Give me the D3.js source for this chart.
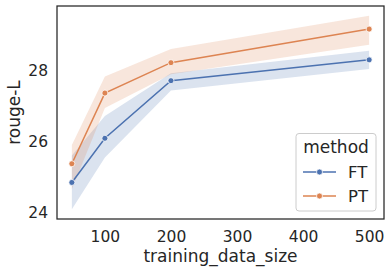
<!DOCTYPE html>
<html>
<head>
<meta charset="utf-8">
<script src="https://cdn.jsdelivr.net/npm/d3@7"></script>
<style>
  body { margin: 0; background: #fff; }
  svg text { font-family: "DejaVu Sans", sans-serif; fill: #262626; }
</style>
</head>
<body>
<div id="svgContainer"></div>
<script>
// data
const sizes = [50, 100, 200, 500]
const methods = ['FT', 'PT']
const colors = ['#4c72b0', '#dd8452']
const ftMean = [24.84, 26.09, 27.72, 28.31]
const ftLow  = [24.08, 25.55, 27.44, 28.05]
const ftHigh = [25.60, 26.72, 27.93, 28.57]
const ptMean = [25.37, 27.37, 28.23, 29.18]
const ptLow  = [24.65, 26.95, 27.90, 28.74]
const ptHigh = [25.90, 27.84, 28.62, 29.56]
const xTicks = [100, 200, 300, 400, 500]
const yTicks = [24, 26, 28]

const series = [
  { name: methods[0], color: colors[0], mean: ftMean, low: ftLow, high: ftHigh },
  { name: methods[1], color: colors[1], mean: ptMean, low: ptLow, high: ptHigh }
]

const w = 392, h = 273
const plotL = 57, plotR = 384, plotT = 6, plotB = 219

const svg = d3.select('#svgContainer')
              .append('svg')
              .attr('width', w)
              .attr('height', h)

// matplotlib style 5% margins
const xPad = (d3.max(sizes) - d3.min(sizes)) * 0.05
const xScale = d3.scaleLinear()
                 .domain([d3.min(sizes) - xPad, d3.max(sizes) + xPad])
                 .range([plotL, plotR])

const yMin = d3.min([...ftLow, ...ptLow]), yMax = d3.max([...ftHigh, ...ptHigh])
const yPad = (yMax - yMin) * 0.05
const yScale = d3.scaleLinear()
                 .domain([yMin - yPad, yMax + yPad])
                 .range([plotB, plotT])

const area = d3.area()
               .x((d, i) => xScale(sizes[i]))
               .y0(d => yScale(d[0]))
               .y1(d => yScale(d[1]))

const line = d3.line()
               .x((d, i) => xScale(sizes[i]))
               .y(d => yScale(d))

series.forEach(s => {
  svg.append('path')
     .attr('d', area(s.low.map((v, i) => [v, s.high[i]])))
     .attr('fill', s.color)
     .attr('fill-opacity', 0.2)
})

series.forEach(s => {
  svg.append('path')
     .attr('d', line(s.mean))
     .attr('fill', 'none')
     .attr('stroke', s.color)
     .attr('stroke-width', 1.5)
  svg.selectAll(null)
     .data(s.mean)
     .enter()
     .append('circle')
     .attr('cx', (d, i) => xScale(sizes[i]))
     .attr('cy', d => yScale(d))
     .attr('r', 3)
     .attr('fill', s.color)
     .attr('stroke', '#fff')
     .attr('stroke-width', 0.75)
})

const xAxis = svg.append('g')
                 .attr('transform', 'translate(0,' + plotB + ')')
                 .call(d3.axisBottom(xScale).tickValues(xTicks).tickSize(0).tickPadding(12))
const yAxis = svg.append('g')
                 .attr('transform', 'translate(' + plotL + ',0)')
                 .call(d3.axisLeft(yScale).tickValues(yTicks).tickFormat(d3.format('d')).tickSize(0).tickPadding(9))

svg.selectAll('.domain').remove()
svg.selectAll('.tick text')
   .attr('font-size', 15.5)
   .attr('font-family', null)
   .style('fill', '#262626')

// frame
svg.append('rect')
   .attr('x', plotL)
   .attr('y', plotT)
   .attr('width', plotR - plotL)
   .attr('height', plotB - plotT)
   .attr('fill', 'none')
   .attr('stroke', '#262626')
   .attr('stroke-width', 1.25)

svg.append('text')
   .attr('x', (plotL + plotR) / 2)
   .attr('y', 262)
   .attr('text-anchor', 'middle')
   .attr('font-size', 17)
   .text('training_data_size')

svg.append('text')
   .attr('transform', 'rotate(-90)')
   .attr('x', -(plotT + plotB) / 2)
   .attr('y', 20)
   .attr('text-anchor', 'middle')
   .attr('font-size', 17)
   .text('rouge-L')

// legend
const legend = svg.append('g')
legend.append('rect')
      .attr('x', 296)
      .attr('y', 133.5)
      .attr('width', 80)
      .attr('height', 77.5)
      .attr('rx', 3)
      .attr('fill', '#fff')
      .attr('fill-opacity', 0.8)
      .attr('stroke', '#cccccc')
      .attr('stroke-width', 1)
legend.append('text')
      .attr('x', 336)
      .attr('y', 153)
      .attr('text-anchor', 'middle')
      .attr('font-size', 17)
      .text('method')

series.forEach((s, i) => {
  const yy = 172 + i * 24
  legend.append('line')
        .attr('x1', 303).attr('x2', 336)
        .attr('y1', yy).attr('y2', yy)
        .attr('stroke', s.color)
        .attr('stroke-width', 1.5)
  legend.append('circle')
        .attr('cx', 319.5).attr('cy', yy)
        .attr('r', 3)
        .attr('fill', s.color)
        .attr('stroke', '#fff')
        .attr('stroke-width', 0.75)
  legend.append('text')
        .attr('x', 348)
        .attr('y', yy + 6)
        .attr('font-size', 16.5)
        .text(s.name)
})
</script>
</body>
</html>
